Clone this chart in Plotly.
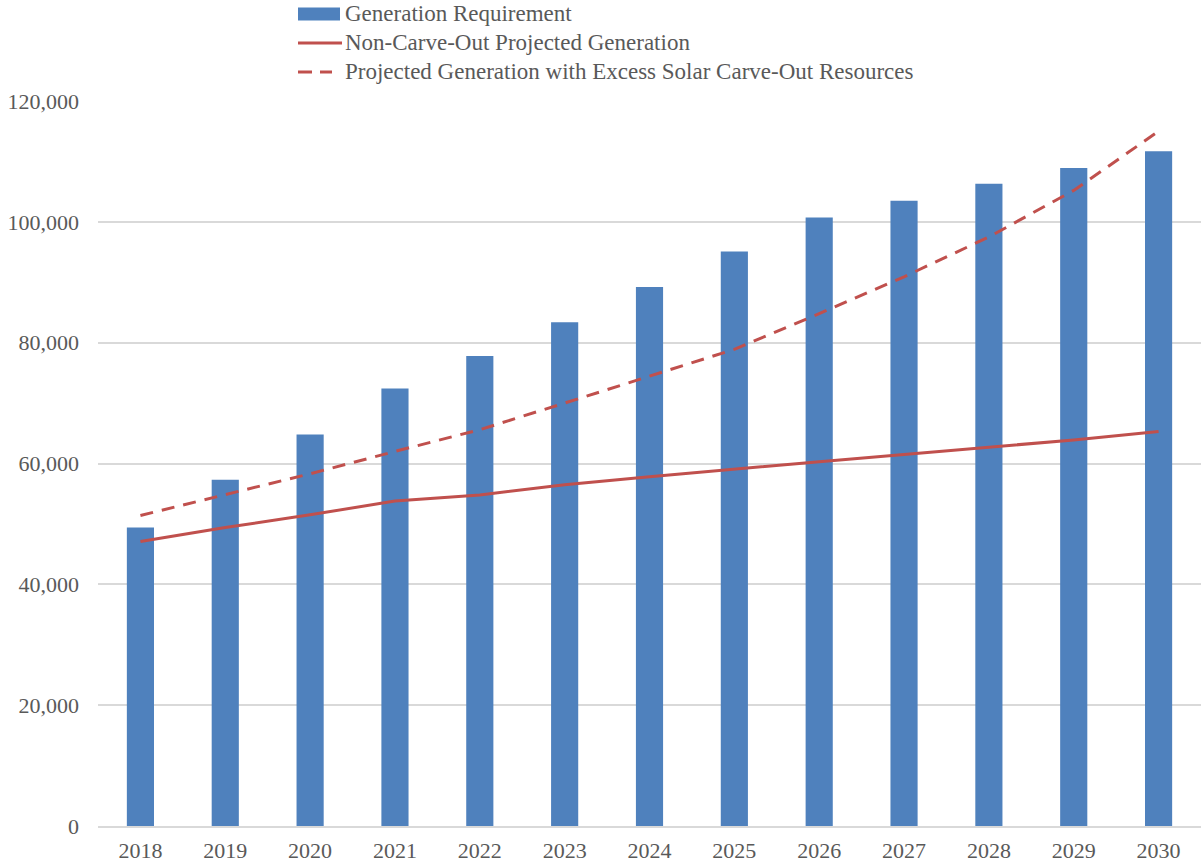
import plotly.graph_objects as go

years = ["2018", "2019", "2020", "2021", "2022", "2023", "2024", "2025", "2026", "2027", "2028", "2029", "2030"]
generation_requirement = [49400, 57300, 64800, 72400, 77800, 83400, 89200, 95100, 100700, 103500, 106300, 108900, 111700]
non_carve_out = [47100, 49400, 51500, 53800, 54800, 56500, 57800, 59100, 60300, 61500, 62700, 63900, 65300]
with_excess_solar = [51400, 54800, 58300, 62000, 65600, 70000, 74400, 78900, 84800, 90900, 97500, 105200, 115000]
y_ticks = [0, 20000, 40000, 60000, 80000, 100000, 120000]
series_names = ["Generation Requirement", "Non-Carve-Out Projected Generation",
                "Projected Generation with Excess Solar Carve-Out Resources"]

FONT = "Liberation Serif"
GREY = "#595959"
BLUE = "#4f81bd"
RED = "#c0504d"
DASH = "13px,9px"

fig = go.Figure()
fig.add_trace(go.Bar(x=years, y=generation_requirement, name=series_names[0],
                     marker=dict(color=BLUE, line=dict(width=0)), showlegend=False))
fig.add_trace(go.Scatter(x=years, y=non_carve_out, mode="lines", name=series_names[1],
                         line=dict(color=RED, width=3), showlegend=False))
fig.add_trace(go.Scatter(x=years, y=with_excess_solar, mode="lines", name=series_names[2],
                         line=dict(color=RED, width=3, dash=DASH), showlegend=False))

# plot area in page pixels: x 98..1201, y 101..826
L, R, T, B = 98.0, 1201.0, 101.0, 826.0
def px(x):
    return (x - L) / (R - L)
def py(y):
    return (B - y) / (B - T)

shapes = []
annotations = []
rows_y = [14, 43, 72]
# legend: swatches + labels above the plot, as in the reference
shapes.append(dict(type="rect", xref="paper", yref="paper", x0=px(298), x1=px(340),
                   y0=py(20.5), y1=py(7.5), fillcolor=BLUE, line=dict(width=0)))
shapes.append(dict(type="line", xref="paper", yref="paper", x0=px(298), x1=px(342),
                   y0=py(43), y1=py(43), line=dict(color=RED, width=3)))
shapes.append(dict(type="line", xref="paper", yref="paper", x0=px(298), x1=px(312),
                   y0=py(72), y1=py(72), line=dict(color=RED, width=3)))
shapes.append(dict(type="line", xref="paper", yref="paper", x0=px(320), x1=px(332),
                   y0=py(72), y1=py(72), line=dict(color=RED, width=3)))
for name, ry in zip(series_names, rows_y):
    annotations.append(dict(text=name, xref="paper", yref="paper", x=px(343), y=py(ry),
                            xanchor="left", yanchor="middle", showarrow=False,
                            font=dict(family=FONT, size=23, color=GREY)))

fig.update_layout(
    width=1201, height=863,
    margin=dict(l=98, r=0, t=101, b=37),
    paper_bgcolor="white", plot_bgcolor="white",
    font=dict(family=FONT, size=22, color=GREY),
    bargap=0.68,
    showlegend=False,
    shapes=shapes,
    annotations=annotations,
)
fig.update_xaxes(type="category", showgrid=False, showline=True, linecolor="#d9d9d9", linewidth=2,
                 ticks="", ticklabelstandoff=4, tickfont=dict(family=FONT, size=22, color=GREY))
fig.update_yaxes(range=[0, 120000], tickvals=y_ticks, tickformat=",d", showgrid=True,
                 gridcolor="#d9d9d9", gridwidth=2, zeroline=False, showline=False, ticks="",
                 ticklabelstandoff=18, tickfont=dict(family=FONT, size=22, color=GREY))

fig.write_html("out.html", config={"displayModeBar": False},
               post_script="document.body.style.margin='0';")
